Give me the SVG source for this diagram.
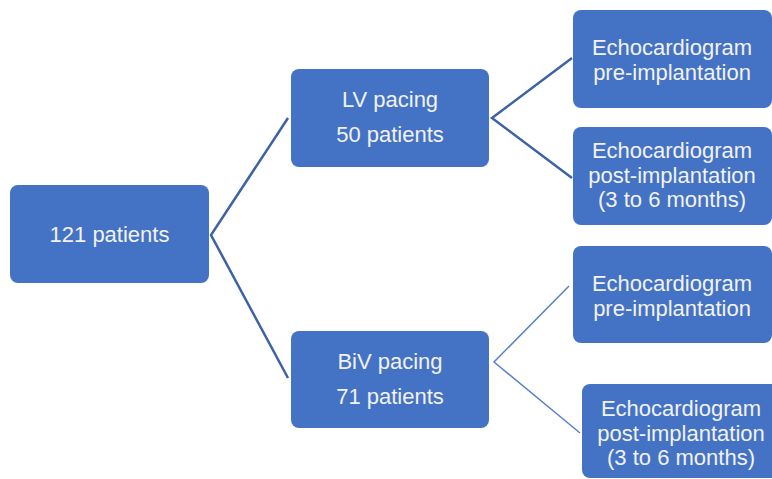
<svg xmlns="http://www.w3.org/2000/svg" width="772" height="479" viewBox="0 0 772 479">
<style>
.box{fill:#4472c4;}
.t{font-family:"Liberation Sans",Arial,sans-serif;font-size:22px;fill:#f2f2f2;text-anchor:middle;}
.c1{stroke:#3d62a8;stroke-width:2.5;fill:none;}
.c2{stroke:#5a80c8;stroke-width:1.5;fill:none;}
</style>
<rect width="772" height="479" fill="#ffffff"/>
<g id="connectors">
<polyline class="c1" points="288,118 211,235 288,378"/>
<polyline class="c1" points="572,58 492,118 572,178"/>
<polyline class="c2" points="569,286 494,362 580,433"/>
</g>
<g id="n121">
<rect class="box" x="10" y="185" width="199" height="98" rx="8"/>
<text class="t" x="109.5" y="242">121 patients</text>
</g>
<g id="lv">
<rect class="box" x="291" y="69" width="198" height="98" rx="8"/>
<text class="t" x="390" y="107">LV pacing</text>
<text class="t" x="390" y="142">50 patients</text>
</g>
<g id="biv">
<rect class="box" x="291" y="331" width="198" height="97" rx="8"/>
<text class="t" x="390" y="369">BiV pacing</text>
<text class="t" x="390" y="404">71 patients</text>
</g>
<g id="lvpre">
<rect class="box" x="573" y="10" width="199" height="98" rx="8"/>
<text class="t" x="672" y="55">Echocardiogram</text>
<text class="t" x="672" y="80">pre-implantation</text>
</g>
<g id="lvpost">
<rect class="box" x="573" y="127" width="199" height="98" rx="8"/>
<text class="t" x="672" y="158">Echocardiogram</text>
<text class="t" x="672" y="183">post-implantation</text>
<text class="t" x="672" y="207">(3 to 6 months)</text>
</g>
<g id="bivpre">
<rect class="box" x="573" y="246" width="199" height="97" rx="8"/>
<text class="t" x="672" y="291">Echocardiogram</text>
<text class="t" x="672" y="316">pre-implantation</text>
</g>
<g id="bivpost">
<rect class="box" x="582" y="384" width="199" height="94" rx="8"/>
<text class="t" x="681" y="416">Echocardiogram</text>
<text class="t" x="681" y="441">post-implantation</text>
<text class="t" x="681" y="465">(3 to 6 months)</text>
</g>
</svg>
